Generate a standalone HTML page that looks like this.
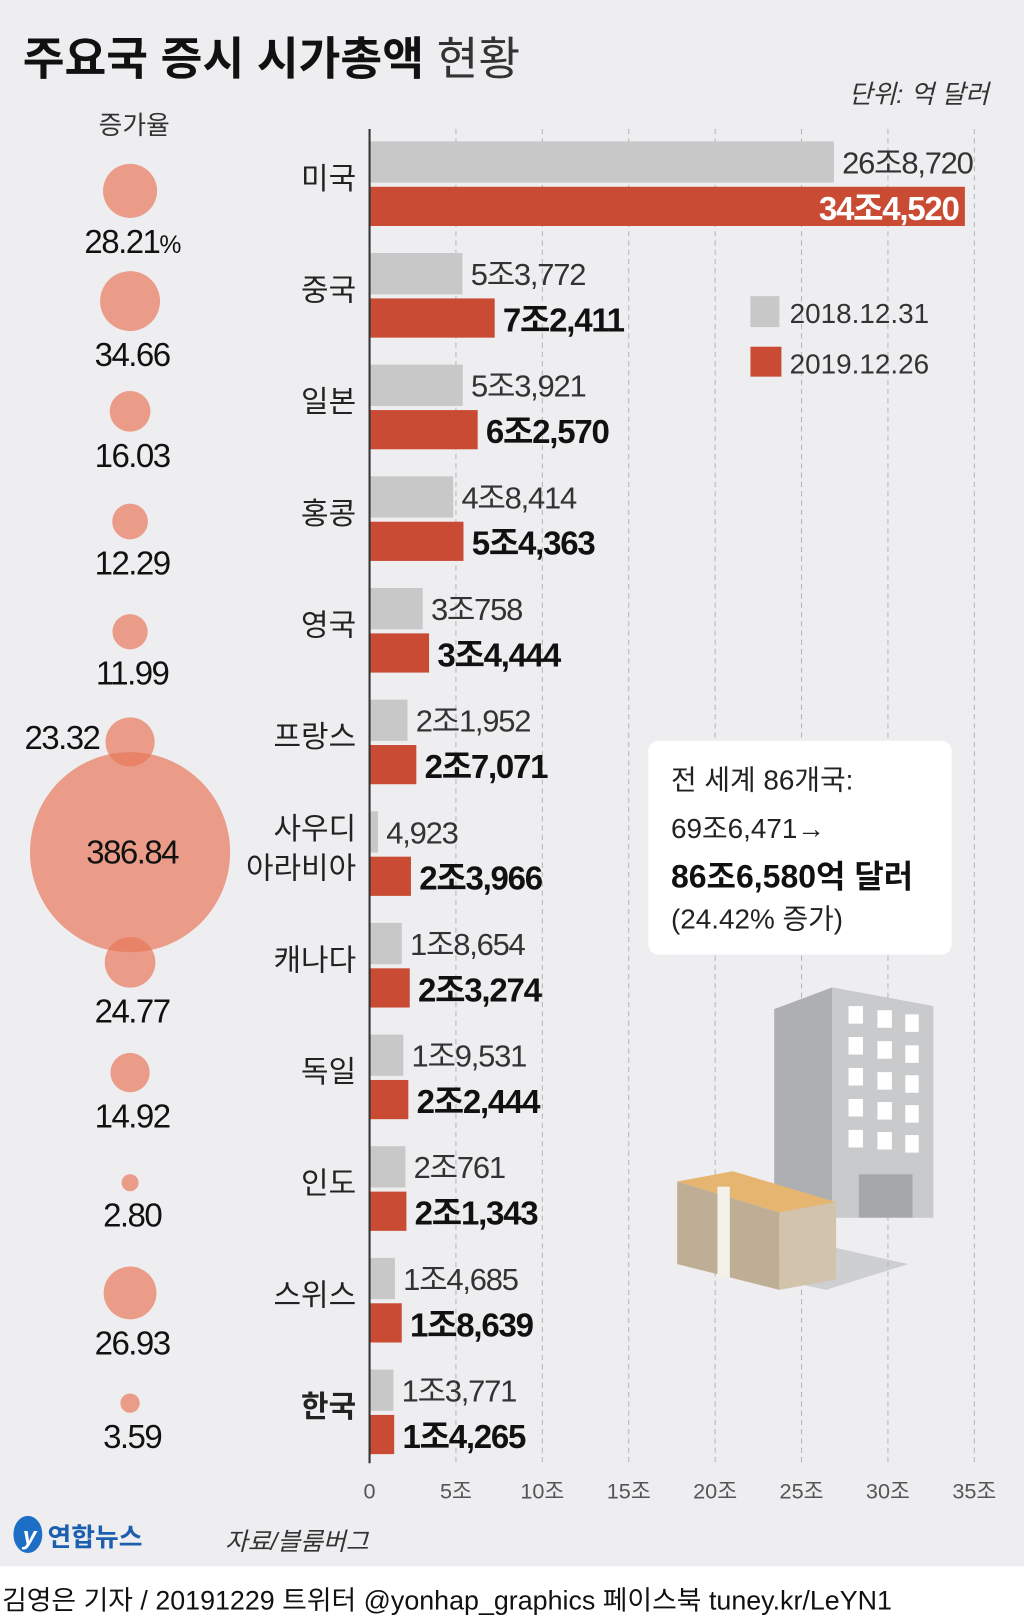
<!DOCTYPE html>
<html><head><meta charset="utf-8"><style>
html,body{margin:0;padding:0;background:#fff}
svg{display:block}
text{font-family:"Liberation Sans","Noto Sans CJK KR",sans-serif}
</style></head><body>
<svg id="chart" width="1024" height="1618" viewBox="0 0 992 1568" preserveAspectRatio="none">
<rect x="0" y="0" width="992" height="1518" fill="#eeeef0"/>
<rect x="0" y="1518" width="992" height="50" fill="#ffffff"/>
<text x="22" y="72" font-size="44" font-weight="bold" fill="#111">주요국 증시 시가총액 <tspan font-weight="normal" fill="#333">현황</tspan></text>
<text x="958" y="100" font-size="25" font-style="italic" fill="#333" text-anchor="end">단위: 억 달러</text>
<text x="130" y="130" font-size="25" fill="#333" text-anchor="middle">증가율</text>
<g id="grid"></g>
<g id="illus">
  <polygon points="750,978 806,957 904,975 904,1180 750,1180" fill="#aeafb2"/>
  <polygon points="806,957 904,975 904,1180 806,1180" fill="#c9cacc"/>
  <g fill="#fff">
    <rect x="822" y="975" width="14" height="17"/><rect x="850" y="979" width="14" height="17"/><rect x="877" y="983" width="13" height="17"/>
    <rect x="822" y="1005" width="14" height="17"/><rect x="850" y="1009" width="14" height="17"/><rect x="877" y="1013" width="13" height="17"/>
    <rect x="822" y="1035" width="14" height="17"/><rect x="850" y="1039" width="14" height="17"/><rect x="877" y="1042" width="13" height="17"/>
    <rect x="822" y="1065" width="14" height="17"/><rect x="850" y="1068" width="14" height="17"/><rect x="877" y="1071" width="13" height="17"/>
    <rect x="822" y="1095" width="14" height="17"/><rect x="850" y="1097" width="14" height="17"/><rect x="877" y="1100" width="13" height="17"/>
  </g>
  <rect x="832" y="1138" width="52" height="42" fill="#a6a7aa"/>
  <polygon points="700,1228 790,1205 880,1225 800,1250" fill="#b9babd" opacity="0.6"/>
  <polygon points="656,1145 710,1135 810,1165 755,1175" fill="#e6b56f"/>
  <polygon points="656,1145 755,1175 755,1250 656,1225" fill="#bfae96"/>
  <polygon points="755,1175 810,1165 810,1240 755,1250" fill="#d2c3ad"/>
  <rect x="695" y="1150" width="12" height="88" fill="#f4f0ea"/>
</g>
<g id="bars"></g>
<line x1="358" y1="125" x2="358" y2="1418" stroke="#333" stroke-width="2"/>
<g id="ticks"></g>
<g id="bubbles"></g>
<g>
  <rect x="727" y="287" width="28" height="30" fill="#c8c8c9"/>
  <text x="765" y="313" font-size="27" fill="#333">2018.12.31</text>
  <rect x="727" y="336" width="30" height="29" fill="#c94b34"/>
  <text x="765" y="362" font-size="27" fill="#333">2019.12.26</text>
</g>
<g>
  <rect x="628" y="718" width="294" height="207" rx="10" fill="#ffffff"/>
  <text x="650" y="765" font-size="27" fill="#222">전 세계 86개국:</text>
  <text x="650" y="812" font-size="27" fill="#222">69조6,471→</text>
  <text x="650" y="860" font-size="31" font-weight="bold" fill="#111">86조6,580억 달러</text>
  <text x="650" y="900" font-size="27" fill="#222">(24.42% 증가)</text>
</g>
<g>
  <ellipse cx="27" cy="1487" rx="14" ry="18" fill="#1c6fc4"/>
  <text x="22" y="1497" font-size="24" font-style="italic" font-weight="bold" fill="#fff">y</text>
  <text x="46" y="1498" font-size="25" font-weight="bold" fill="#1c5fae">연합뉴스</text>
</g>
<text x="218" y="1502" font-size="24" font-style="italic" fill="#333">자료/블룸버그</text>
<text x="2" y="1560" font-size="26" fill="#111">김영은 기자 / 20191229 트위터 @yonhap_graphics  페이스북 tuney.kr/LeYN1</text>
</svg>
<script>
const countries = ["미국","중국","일본","홍콩","영국","프랑스","사우디 아라비아","캐나다","독일","인도","스위스","한국"];
const values2018 = [268720,53772,53921,48414,30758,21952,4923,18654,19531,20761,14685,13771];
const values2019 = [344520,72411,62570,54363,34444,27071,23966,23274,22444,21343,18639,14265];
const growth = [28.21,34.66,16.03,12.29,11.99,23.32,386.84,24.77,14.92,2.80,26.93,3.59];
const tickValues = [0,5,10,15,20,25,30,35];
const tickLabels = ["0","5조","10조","15조","20조","25조","30조","35조"];

const NS = "http://www.w3.org/2000/svg";
const X0 = 358, PX_PER_JO = 16.74, TOP0 = 137, PITCH = 108.2;
const BUB0 = 185, BUB_PITCH = 106.8;
function xScale(v){ return X0 + v/10000*PX_PER_JO; }
function xJo(j){ return X0 + j*PX_PER_JO; }
function rScale(g){ return 4.93*Math.sqrt(g); }
function fmt(v){
  const jo = Math.floor(v/10000), rest = v%10000;
  const r = rest.toLocaleString("en-US");
  return jo>0 ? jo+"조"+r : r;
}
function mk(tag, attrs, parent, txt){
  const e = document.createElementNS(NS, tag);
  for (const k in attrs) e.setAttribute(k, attrs[k]);
  if (txt!==undefined) e.textContent = txt;
  parent.appendChild(e);
  return e;
}
const grid = document.getElementById("grid");
const ticks = document.getElementById("ticks");
tickValues.forEach((t,i)=>{
  if (t>0){
    const l = mk("line",{x1:xJo(t),x2:xJo(t),y1:125,y2:1418,stroke:"#b5b5b8","stroke-width":1,"stroke-dasharray":"5,4"},grid);
    
    
  }
  const tx = mk("text",{x:xJo(t),y:1452,"font-size":21,fill:"#555","text-anchor":"middle"},ticks,tickLabels[i]);
  
  
});
const bars = document.getElementById("bars");
const bubbles = document.getElementById("bubbles");
countries.forEach((c,i)=>{
  const top = TOP0 + i*PITCH;
  const g = mk("g",{},bars);
  
  
  const b1 = mk("rect",{x:X0,y:top,width:xScale(values2018[i])-X0,height:40,fill:"#c8c8c9"},g);
  
  
  const b2 = mk("rect",{x:X0,y:top+44,width:xScale(values2019[i])-X0,height:38,fill:"#c94b34"},g);
  
  
  const l1 = mk("text",{x:xScale(values2018[i])+8,y:top+31,"font-size":30,fill:"#333","letter-spacing":-1.2},g,fmt(values2018[i]));
  
  
  const inside = values2019[i] > 300000;
  const l2 = mk("text",{x:inside? xScale(values2019[i])-6 : xScale(values2019[i])+8,y:top+76,"font-size":32,"font-weight":"bold",fill:inside?"#fff":"#111","text-anchor":inside?"end":"start","letter-spacing":-1.2},g,fmt(values2019[i]));
  
  
  const parts = c.split(" ");
  const cy = top + 35;
  parts.forEach((p,k)=>{
    const y = cy + 11 + (k - (parts.length-1)/2)*38;
    const t = mk("text",{x:345,y:y,"font-size":29,fill:"#222","text-anchor":"end","font-weight":c==="한국"?"bold":"normal"},g,p);
    
    
  });
  const r = rScale(growth[i]);
  const bcy = BUB0 + i*BUB_PITCH;
  const circ = mk("circle",{cx:126,cy:bcy,r:r,fill:"#e8795b","fill-opacity":0.7},bubbles);
  
  
  let lx=128, ly=bcy+r+34, anchor="middle";
  if (growth[i] > 100){ ly = bcy+11; }
  else if (i===5){ lx=60; ly=bcy+7; }
  const label = growth[i].toFixed(2);
  const gt = mk("text",{x:lx,y:ly,"font-size":32,fill:"#111","text-anchor":anchor,"letter-spacing":-1.5},bubbles,label);
  if (i===0){ mk("tspan",{"font-size":24},gt,"%"); }
  
  
});
</script>
</body></html>
